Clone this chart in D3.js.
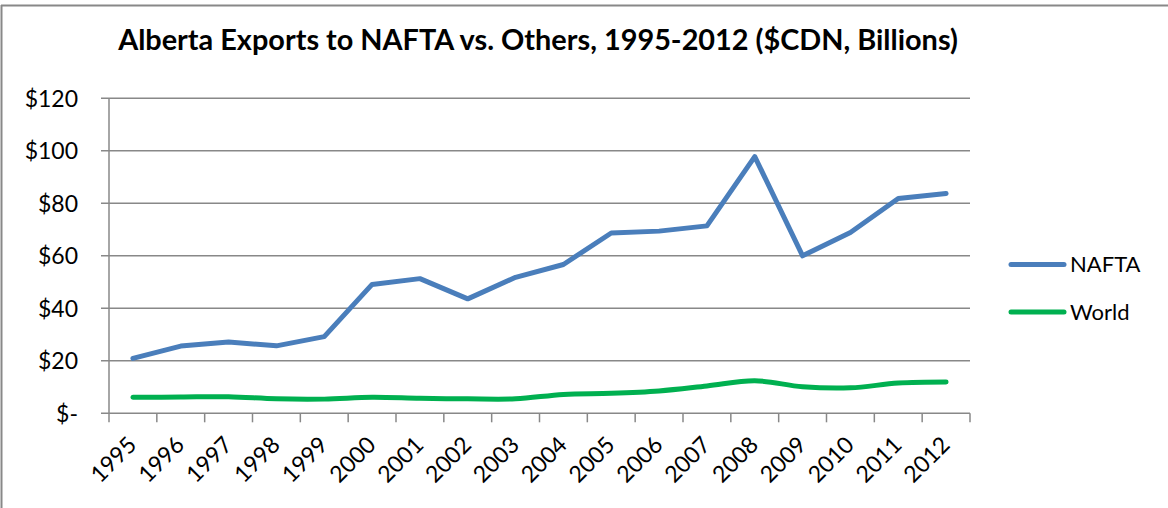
<!DOCTYPE html>
<html>
<head>
<meta charset="utf-8">
<script src="https://cdn.jsdelivr.net/npm/d3@7"></script>
<style>
  html, body { margin: 0; padding: 0; background: #fff; }
  svg { display: block; }
  text { font-family: Lato, "Open Sans", sans-serif; fill: #000; }
</style>
</head>
<body>
<svg id="chart" width="1168" height="508"></svg>
<script>
// Alberta exports, $CDN billions
const years = ["1995","1996","1997","1998","1999","2000","2001","2002","2003",
               "2004","2005","2006","2007","2008","2009","2010","2011","2012"];
const nafta = [20.9, 25.6, 27.2, 25.7, 29.2, 49.1, 51.3, 43.6, 51.8,
               56.7, 68.7, 69.4, 71.4, 97.8, 60.0, 68.9, 81.8, 83.7];
const world = [6.1, 6.2, 6.3, 5.5, 5.4, 6.1, 5.7, 5.5, 5.5,
               7.2, 7.6, 8.5, 10.4, 12.4, 10.1, 9.7, 11.5, 11.9];
const yTicks = [0, 20, 40, 60, 80, 100, 120];
const seriesNames = ["NAFTA", "World"];
const seriesColors = ["#4A7EBB", "#00B050"];

const svg = d3.select("#chart");
const gridColor = "#888888";

// frame edges (top and left)
svg.append("line").attr("x1", 1).attr("x2", 1168).attr("y1", 5.5).attr("y2", 5.5)
  .attr("stroke", gridColor).attr("stroke-width", 2);
svg.append("line").attr("x1", 1.5).attr("x2", 1.5).attr("y1", 5).attr("y2", 508)
  .attr("stroke", gridColor).attr("stroke-width", 2);

const plotLeft = 109, plotRight = 970, plotTop = 98.3, plotBottom = 413.3;

const x = d3.scaleBand().domain(years).range([plotLeft, plotRight]).padding(0);
const y = d3.scaleLinear().domain([0, 120]).range([plotBottom, plotTop]);
const cx = d => x(d) + x.bandwidth() / 2;

// horizontal gridlines + y tick marks
svg.append("g").selectAll("line").data(yTicks).join("line")
  .attr("x1", plotLeft - 8).attr("x2", plotRight)
  .attr("y1", d => y(d)).attr("y2", d => y(d))
  .attr("stroke", gridColor).attr("stroke-width", 1.5);

// y axis line
svg.append("line").attr("x1", plotLeft).attr("x2", plotLeft).attr("y1", plotTop).attr("y2", plotBottom + 0.7)
  .attr("stroke", gridColor).attr("stroke-width", 1.5);

// y tick labels
svg.append("g").selectAll("text").data(yTicks).join("text")
  .attr("x", 78).attr("y", d => y(d)).attr("dy", "0.36em")
  .attr("text-anchor", "end").attr("font-size", 23)
  .text(d => d === 0 ? "$-" : "$" + d);

// x tick marks at band boundaries
const xBounds = years.map(d => x(d)).concat([plotRight]);
svg.append("g").selectAll("line").data(xBounds).join("line")
  .attr("x1", d => d).attr("x2", d => d)
  .attr("y1", plotBottom).attr("y2", plotBottom + 9)
  .attr("stroke", gridColor).attr("stroke-width", 1.5);

// rotated year labels
svg.append("g").selectAll("text").data(years).join("text")
  .attr("transform", d => `translate(${cx(d) + 5},${plotBottom + 33}) rotate(-45)`)
  .attr("text-anchor", "end").attr("font-size", 23)
  .text(d => d);

// series lines
const lineLinear = d3.line().x((d, i) => cx(years[i])).y(d => y(d));
const lineSmooth = d3.line().x((d, i) => cx(years[i])).y(d => y(d)).curve(d3.curveCatmullRom.alpha(0.5));

svg.append("path").datum(world).attr("d", lineSmooth)
  .attr("fill", "none").attr("stroke", seriesColors[1]).attr("stroke-width", 5)
  .attr("stroke-linecap", "round").attr("stroke-linejoin", "round");
svg.append("path").datum(nafta).attr("d", lineLinear)
  .attr("fill", "none").attr("stroke", seriesColors[0]).attr("stroke-width", 5)
  .attr("stroke-linecap", "round").attr("stroke-linejoin", "round");

// legend
const legendY = [264.5, 312];
const legend = svg.append("g").selectAll("g").data(seriesNames).join("g")
  .attr("transform", (d, i) => `translate(0,${legendY[i]})`);
legend.append("line").attr("x1", 1011).attr("x2", 1064).attr("y1", 0).attr("y2", 0)
  .attr("stroke", (d, i) => seriesColors[i]).attr("stroke-width", 5).attr("stroke-linecap", "round");
legend.append("text").attr("x", 1070).attr("y", 0).attr("dy", "0.36em")
  .attr("font-size", 22).text(d => d);

// title, sized to span its width
const title = svg.append("text").attr("x", 538).attr("y", 50)
  .attr("text-anchor", "middle").attr("font-weight", "bold").attr("font-size", 24)
  .text("Alberta Exports to NAFTA vs. Others, 1995-2012 ($CDN, Billions)");
const tw = title.node().getComputedTextLength();
title.attr("font-size", 24 * 840 / tw);
</script>
</body>
</html>
